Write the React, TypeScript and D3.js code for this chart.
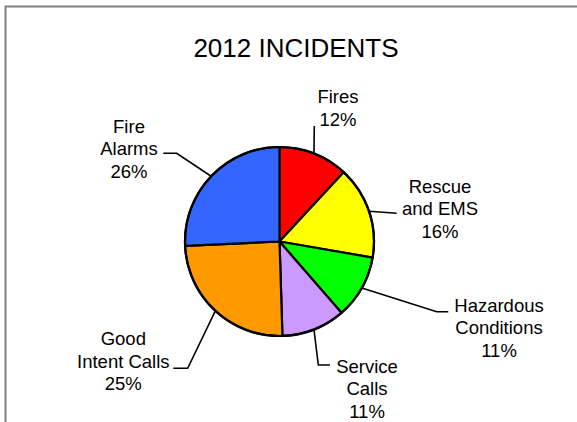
import React from "react";
import * as d3 from "d3";

// Incident categories and their share of the year's calls (percent)
const categories = [
  "Fires",
  "Rescue and EMS",
  "Hazardous Conditions",
  "Service Calls",
  "Good Intent Calls",
  "Fire Alarms",
];
const percents = [12, 16, 11, 11, 25, 26];
const labelLines = [
  ["Fires"],
  ["Rescue", "and EMS"],
  ["Hazardous", "Conditions"],
  ["Service", "Calls"],
  ["Good", "Intent Calls"],
  ["Fire", "Alarms"],
];
const colors = ["#ff0000", "#ffff00", "#00ff00", "#cc99ff", "#ff9900", "#3366ff"];

const W = 577;
const H = 422;
const CX = 279.5;
const CY = 241.5;
const R = 94.5;
const FONT = "'Liberation Sans', Arial, Helvetica, sans-serif";
const LINE_H = 22.5;

// Label layout relative to the pie centre: elbow and end of each leader,
// text centre x and first-line baseline.
const labelLayout = [
  { elbow: null, end: [34.8, -115.5], tx: 58.5, ty: -138.5 },
  { elbow: null, end: [117.2, -28.2], tx: 160.5, ty: -49 },
  { elbow: [157.2, 70.2], end: [168.8, 70.2], tx: 219.5, ty: 70.2 },
  { elbow: [38.8, 123.5], end: [50.5, 123.5], tx: 87.5, ty: 131 },
  { elbow: [-91.8, 126.8], end: [-106.2, 126.8], tx: -156.2, ty: 103.5 },
  { elbow: [-102.8, -88.2], end: [-116.2, -88.2], tx: -150.5, ty: -108.8 },
];

export default function App() {
  const pie = d3
    .pie<number>()
    .sort(null)
    .value((d) => d)
    .startAngle(0)
    .endAngle(2 * Math.PI);
  const arcs = pie(percents);
  const arc = d3.arc<d3.PieArcDatum<number>>().innerRadius(0).outerRadius(R);

  return (
    <svg
      width={W}
      height={H}
      style={{ position: "absolute", left: 0, top: 0, background: "#fff" }}
      fontFamily={FONT}
    >
      <rect x={0} y={0} width={W} height={H} fill="#fff" />
      <path d={`M5.5,${H} V6.5 H${W}`} fill="none" stroke="#808080" strokeWidth={2} />
      <text x={296} y={57} textAnchor="middle" fontSize={26} fill="#000">
        2012 INCIDENTS
      </text>
      <g transform={`translate(${CX},${CY})`}>
        {arcs.map((a, i) => (
          <path
            key={categories[i]}
            d={arc(a) || ""}
            fill={colors[i]}
            stroke="#000"
            strokeWidth={2.2}
            strokeLinejoin="round"
          />
        ))}
        <circle r={R} fill="none" stroke="#000" strokeWidth={2.2} />
        {arcs.map((a, i) => {
          const mid = (a.startAngle + a.endAngle) / 2;
          const sx = R * Math.sin(mid);
          const sy = -R * Math.cos(mid);
          const L = labelLayout[i];
          const pts: number[][] = [[sx, sy]];
          if (L.elbow) pts.push(L.elbow);
          pts.push(L.end);
          const lines = [...labelLines[i], `${percents[i]}%`];
          return (
            <g key={"lbl" + i}>
              <polyline
                points={pts.map((p) => p.join(",")).join(" ")}
                fill="none"
                stroke="#000"
                strokeWidth={1.6}
              />
              <text textAnchor="middle" fontSize={18.5} fill="#000">
                {lines.map((t, j) => (
                  <tspan key={j} x={L.tx} y={L.ty + j * LINE_H}>
                    {t}
                  </tspan>
                ))}
              </text>
            </g>
          );
        })}
      </g>
    </svg>
  );
}
